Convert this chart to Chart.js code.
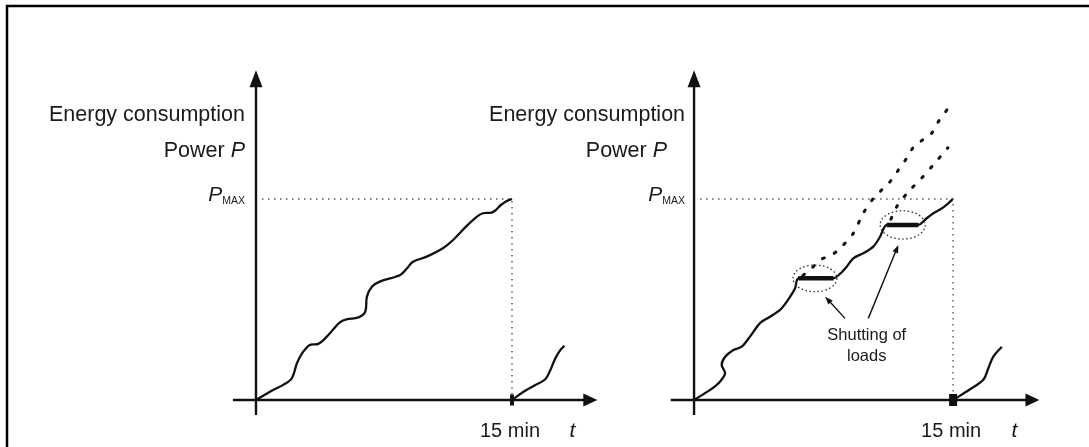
<!DOCTYPE html>
<html>
<head>
<meta charset="utf-8">
<script src="https://cdn.jsdelivr.net/npm/chart.js@4"></script>
<style>
body{margin:0;background:#fff;}
#wrap{width:1089px;height:447px;}
</style>
</head>
<body>
<div id="wrap"><canvas id="myChart" width="1089" height="447"></canvas></div>
<script>
// time in minutes, energy in % of Pmax
var period=15;
var pMax=100;

// left: no load control
var leftT=[0,1.0,1.6,2.1,2.4,2.7,3.15,3.65,4.15,4.9,5.3,6.0,6.4,6.5,6.8,7.25,8.45,8.85,9.2,10.0,10.95,11.55,12.35,12.95,13.3,13.8,14.05,14.35,14.7,15];
var leftP=[0,5,7.5,10.8,18.3,23.2,27.4,27.9,31.5,38.5,40.1,41.1,43.9,51.4,56.4,58.9,62.2,65.5,68.8,71.3,75.5,79.6,86.6,91.2,92.9,93.2,94.5,97,99,100];
var nextLT=[15,15.68,16.27,16.95,17.25,17.54,17.84,18.07];
var nextLP=[0,4.1,7,10.3,14.9,20.7,24.9,26.9];

// right: with shutting of loads
var rightT=[0,0.93,1.5,1.8,1.6,1.8,2.28,2.76,3.24,3.82,4.4,4.98,5.37,5.85,6.04,8.07,8.45,8.84,9.22,9.8,10.38,10.77,11.16,12.99,13.47,13.86,14.44,15];
var rightP=[0,5,9.1,13.3,17.4,21.5,24.9,26.5,31.5,38.2,41.4,44.8,48.9,55.6,60.5,60.5,62.7,66.3,70.5,73,76.3,81.2,87.1,87.1,90.4,92.9,95.8,100];
var nextRT=[15,15.98,16.75,17.04,17.33,17.82];
var nextRP=[0,5.3,10,15.8,21.6,26.5];
var plat1T=[6.04,8.07], plat1P=[60.5,60.5];
var plat2T=[11.16,12.99], plat2P=[87.1,87.1];
// what would happen without shutting
var dash1T=[6.3,6.72,7.3,7.97,8.55,9.22,9.8,10.38,10.87,11.35,11.83,12.28,12.7,13.24,13.76,14.15,14.7];
var dash1P=[62,64.7,69.7,72.1,76.3,82.9,92.9,100.3,104.5,108.6,114.4,119.9,125.7,129.4,132.7,138.5,145];
var dash2T=[11.4,11.74,12.41,13.2,13.9,14.7];
var dash2P=[90,96.2,103.6,110.6,117.4,125.5];

// axis extents
var axisT=[-1.35,20];
var axisP=[-7.5,164];

function pts(xs,ys){ return xs.map(function(x,i){ return {x:x,y:ys[i]}; }); }

function line(xid,xs,ys,extra){
	var d={xAxisID:xid,data:pts(xs,ys),borderColor:'#111',borderWidth:2.3,tension:0.35,pointRadius:0,fill:false};
	for(var k in extra) d[k]=extra[k];
	return d;
}

function head(ctx,x,y,ang,len,w){
	ctx.save();
	ctx.translate(x,y); ctx.rotate(ang);
	ctx.beginPath(); ctx.moveTo(0,0); ctx.lineTo(-len,-w/2); ctx.lineTo(-len,w/2); ctx.closePath();
	ctx.fill();
	ctx.restore();
}

var FONT='"Liberation Sans", Arial, sans-serif';

var annot={
	id:'annot',
	afterDatasetsDraw:function(chart){
		var ctx=chart.ctx, ys=chart.scales.y;
		ctx.save();
		// frame
		ctx.strokeStyle='#000'; ctx.lineWidth=2.5;
		ctx.beginPath(); ctx.moveTo(7,447); ctx.lineTo(7,6); ctx.lineTo(1089,6); ctx.stroke();

		var gaps=[[11,11,11],[9,27,9]];
		var marks=[[4,11],[8,12]];
		['xL','xR'].forEach(function(id,k){
			var xs=chart.scales[id];
			var x0=xs.getPixelForValue(0), y0=ys.getPixelForValue(0);
			var xa=xs.getPixelForValue(axisT[0]), xb=xs.getPixelForValue(axisT[1]);
			var ya=ys.getPixelForValue(axisP[0]), yb=ys.getPixelForValue(axisP[1]);
			var x15=xs.getPixelForValue(period), yMax=ys.getPixelForValue(pMax);
			ctx.strokeStyle='#111'; ctx.fillStyle='#111'; ctx.lineWidth=2.4; ctx.setLineDash([]);
			ctx.beginPath();
			ctx.moveTo(xa,y0); ctx.lineTo(xb-10,y0);
			ctx.moveTo(x0,ya); ctx.lineTo(x0,yb+12);
			ctx.stroke();
			head(ctx,xb,y0,0,14,13);
			head(ctx,x0,yb,-Math.PI/2,17,13);
			// 15 min marker
			ctx.fillRect(x15-marks[k][0]/2,y0-marks[k][1]/2,marks[k][0],marks[k][1]);

			// labels
			ctx.fillStyle='#1a1a1a';
			ctx.textBaseline='alphabetic';
			ctx.textAlign='right';
			ctx.font='21.5px '+FONT;
			ctx.fillText('Energy consumption',x0-gaps[k][0],121);
			ctx.font='italic 21.5px '+FONT;
			var wp=ctx.measureText('P').width;
			ctx.fillText('P',x0-gaps[k][1],157);
			ctx.font='21.5px '+FONT;
			ctx.fillText('Power ',x0-gaps[k][1]-wp,157);
			ctx.font='10.5px '+FONT;
			var wm=ctx.measureText('MAX').width;
			ctx.fillText('MAX',x0-gaps[k][2],yMax+5);
			ctx.font='italic 21px '+FONT;
			ctx.fillText('P',x0-gaps[k][2]-wm,yMax+2);
			ctx.textAlign='center';
			ctx.font='20px '+FONT;
			ctx.fillText('15 min',x15-2,437);
			ctx.font='italic 21px '+FONT;
			ctx.fillText('t',xb-25,437);
		});

		// right panel notes
		var xr=chart.scales.xR;
		var X=function(t){return xr.getPixelForValue(t);}, Y=function(v){return ys.getPixelForValue(v);};
		ctx.strokeStyle='#333'; ctx.lineWidth=1.3; ctx.setLineDash([1.5,2.5]);
		[[7.0,60.5,22,13.3],[12.08,87.1,22.5,14.2]].forEach(function(e){
			ctx.beginPath(); ctx.ellipse(X(e[0]),Y(e[1]),e[2],e[3],0,0,Math.PI*2); ctx.stroke();
		});
		ctx.setLineDash([]); ctx.strokeStyle='#111'; ctx.fillStyle='#111'; ctx.lineWidth=1.4;
		[[8.74,40.6,7.59,51.4],[10.09,40.6,11.83,77.1]].forEach(function(a){
			var x1=X(a[0]),y1=Y(a[1]),x2=X(a[2]),y2=Y(a[3]);
			var ang=Math.atan2(y2-y1,x2-x1);
			ctx.beginPath(); ctx.moveTo(x1,y1); ctx.lineTo(x2-6*Math.cos(ang),y2-6*Math.sin(ang)); ctx.stroke();
			head(ctx,x2,y2,ang,8,6);
		});
		ctx.fillStyle='#1a1a1a'; ctx.textAlign='center'; ctx.font='16.5px '+FONT;
		ctx.fillText('Shutting of',X(10.0),340);
		ctx.fillText('loads',X(10.0),361);
		ctx.restore();
	}
};

var guide={borderColor:'#555',borderWidth:1.4,borderDash:[1.5,4.5],tension:0};
var dashed={borderWidth:3,borderDash:[2,11],borderCapStyle:'round',tension:0.3};

new Chart(document.getElementById('myChart'),{
	type:'line',
	data:{
		datasets:[
			line('xL',leftT,leftP,{}),
			line('xL',nextLT,nextLP,{}),
			line('xL',[0.35,period,period],[pMax,pMax,0],guide),
			line('xR',[0.35,period,period],[pMax,pMax,0],guide),
			line('xR',rightT,rightP,{tension:0.3}),
			line('xR',nextRT,nextRP,{}),
			line('xR',plat1T,plat1P,{borderWidth:4.5,tension:0}),
			line('xR',plat2T,plat2P,{borderWidth:4.5,tension:0}),
			line('xR',dash1T,dash1P,dashed),
			line('xR',dash2T,dash2P,dashed)
		]
	},
	options:{
		responsive:false,
		animation:false,
		layout:{padding:0},
		plugins:{legend:{display:false},title:{display:false},tooltip:{enabled:false}},
		scales:{
			xL:{type:'linear',min:-15,max:48.81,display:false},
			xR:{type:'linear',min:-40.19,max:22.87,display:false},
			y:{type:'linear',min:-23.4,max:199,display:false}
		}
	},
	plugins:[annot]
});
</script>
</body>
</html>
